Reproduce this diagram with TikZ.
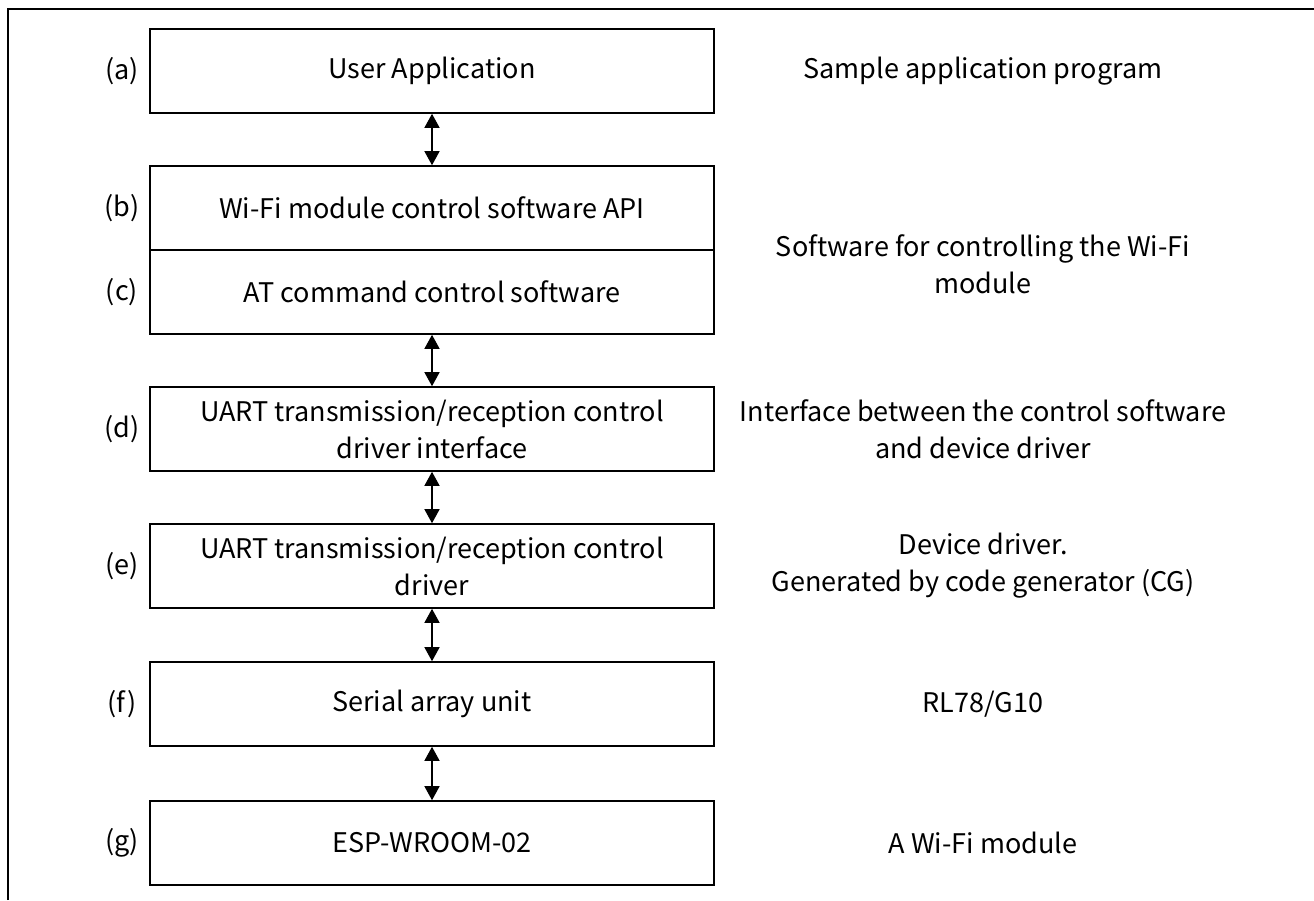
\documentclass[tikz,border=0pt]{standalone}
\usepackage{fontspec}
\setmainfont{Noto Sans CJK JP}
\usetikzlibrary{arrows.meta}
\tikzset{
  layerbox/.style={draw, line width=1.6pt, minimum width=564pt, minimum height=84pt,
    inner sep=0pt, align=center, font=\fontsize{27}{37}\selectfont},
  lbl/.style={inner sep=0pt, font=\fontsize{27}{37}\selectfont},
  note/.style={inner sep=0pt, align=center, font=\fontsize{27}{37}\selectfont},
  biarrow/.style={line width=1.4pt, {Triangle[length=14pt,width=15pt]}-{Triangle[length=14pt,width=15pt]}},
  frameline/.style={line width=2.6pt}
}
\begin{document}
\begin{tikzpicture}[x=1pt,y=-1pt]
\useasboundingbox (0,0) rectangle (1314,900);
\coordinate (fb) at (8,900);
\coordinate (fc) at (8,9);
\coordinate (fr) at (1314,9);
\draw[frameline] (fb) -- (fc) -- (fr);

\node[layerbox] (a) at (432,71) {User Application};
\node[layerbox] (b) at (432,208) {Wi-Fi module control software API};
\node[layerbox] (c) at (432,292) {AT command control software};
\node[layerbox] (d) at (432,429) {UART transmission/reception control\\driver interface};
\node[layerbox] (e) at (432,566) {UART transmission/reception control\\driver};
\node[layerbox] (f) at (432,704) {Serial array unit};
\node[layerbox] (g) at (432,843) {ESP-WROOM-02};

\draw[biarrow] (a.south) -- (b.north);
\draw[biarrow] (c.south) -- (d.north);
\draw[biarrow] (d.south) -- (e.north);
\draw[biarrow] (e.south) -- (f.north);
\draw[biarrow] (f.south) -- (g.north);

\node[lbl] (la) at (122,71) {(a)};
\node[lbl] (lb) at (122,208) {(b)};
\node[lbl] (lc) at (122,292) {(c)};
\node[lbl] (ld) at (122,429) {(d)};
\node[lbl] (le) at (122,566) {(e)};
\node[lbl] (lf) at (122,704) {(f)};
\node[lbl] (lg) at (122,843) {(g)};

\node[note] (r1) at (983,71) {Sample application program};
\node[note] (r2) at (983,264) {Software for controlling the Wi-Fi\\module};
\node[note] (r3) at (983,429) {Interface between the control software\\and device driver};
\node[note] (r4) at (983,566) {Device driver.\\Generated by code generator (CG)};
\node[note] (r5) at (983,704) {RL78/G10};
\node[note] (r6) at (983,843) {A Wi-Fi module};
\end{tikzpicture}
\end{document}
